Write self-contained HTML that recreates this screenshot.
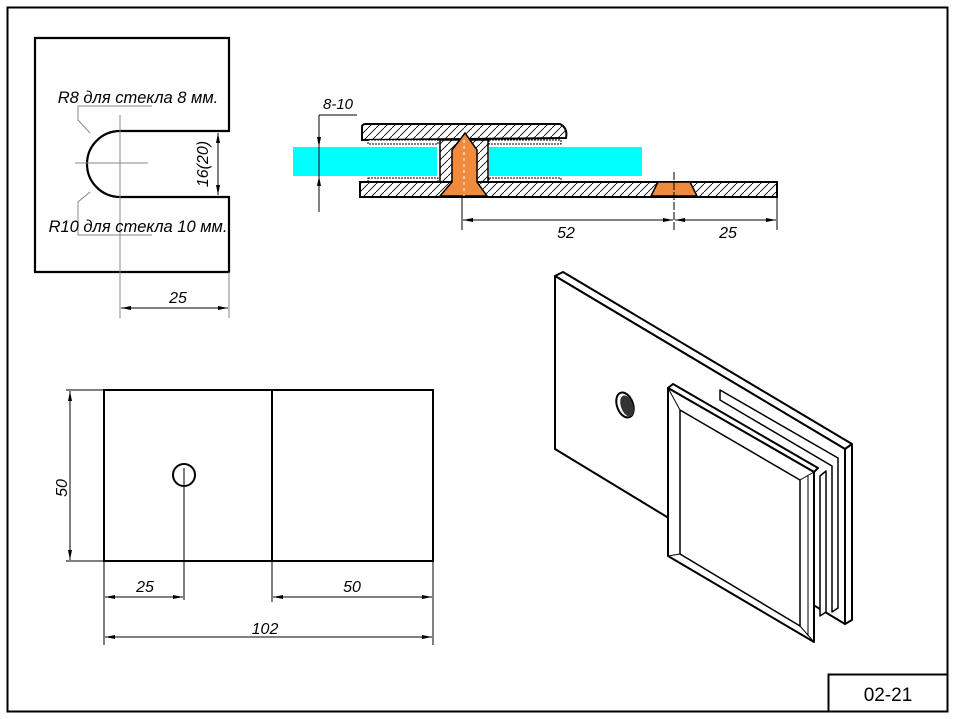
<!DOCTYPE html>
<html><head><meta charset="utf-8"><style>
html,body{margin:0;padding:0;background:#fff;}
svg{display:block;}
text{font-family:"Liberation Sans",sans-serif;font-style:italic;fill:#000;}
</style></head><body>
<svg width="957" height="719" viewBox="0 0 957 719" xmlns="http://www.w3.org/2000/svg">
<defs>
<marker id="a" viewBox="0 0 10 6" refX="10" refY="3" markerWidth="10" markerHeight="6" orient="auto-start-reverse" markerUnits="userSpaceOnUse"><path d="M0,1 L10,3 L0,5z" fill="#000"/></marker>
<pattern id="h" width="8" height="8" patternUnits="userSpaceOnUse"><path d="M0,8 L8,0" stroke="#000" stroke-width="0.8"/></pattern>
</defs>
<!-- frame -->
<rect x="7.5" y="7.5" width="940" height="704" fill="none" stroke="#000" stroke-width="2"/>
<rect x="828.5" y="674.5" width="119" height="37" fill="none" stroke="#000" stroke-width="2"/>
<text x="888" y="701" font-size="19" text-anchor="middle" style="font-style:normal">02-21</text>

<!-- top-left plate -->
<path d="M229,131 L229,38 L35,38 L35,272 L229,272 L229,197 L120,197 A32,32 0 0 1 120,131 Z" fill="none" stroke="#000" stroke-width="2.2"/>
<g stroke="#888" stroke-width="1" fill="none">
<line x1="120" y1="115" x2="120" y2="318"/>
<line x1="75" y1="163" x2="148" y2="163"/>
<line x1="229" y1="272" x2="229" y2="318"/>
<path d="M152,106 L78,106 L78,120 L90,133"/>
<path d="M152,235 L78,235 L78,202 L90,192"/>
</g>
<line x1="218" y1="133" x2="218" y2="195" stroke="#000" marker-start="url(#a)" marker-end="url(#a)"/>
<text transform="translate(208,164) rotate(-90)" font-size="16" text-anchor="middle">16(20)</text>
<text x="138" y="103" font-size="16.5" text-anchor="middle">R8 для стекла 8 мм.</text>
<text x="138" y="232" font-size="16.5" text-anchor="middle">R10 для стекла 10 мм.</text>
<line x1="121" y1="308" x2="228" y2="308" stroke="#000" marker-start="url(#a)" marker-end="url(#a)"/>
<text x="178" y="303" font-size="16" text-anchor="middle">25</text>

<!-- section -->
<rect x="293" y="147" width="144" height="29" fill="#00ffff"/>
<rect x="489" y="147" width="153" height="29" fill="#00ffff"/>
<path d="M362,127 Q362,124 366,124 L560,124 Q568,128 566,138 L362,140 Z" fill="url(#h)" stroke="#000" stroke-width="2"/>
<rect x="368" y="140" width="70" height="4" fill="#fff" stroke="#000" stroke-width="1" stroke-dasharray="2,1"/>
<rect x="489" y="140" width="72" height="4" fill="#fff" stroke="#000" stroke-width="1" stroke-dasharray="2,1"/>
<rect x="368" y="178" width="70" height="4" fill="#fff" stroke="#000" stroke-width="1" stroke-dasharray="2,1"/>
<rect x="489" y="178" width="72" height="4" fill="#fff" stroke="#000" stroke-width="1" stroke-dasharray="2,1"/>
<rect x="440" y="140" width="48" height="42" fill="url(#h)" stroke="#000" stroke-width="1.5"/>
<rect x="360" y="182" width="417" height="15" fill="url(#h)" stroke="#000" stroke-width="2"/>
<path d="M452,150 L452,182 L440,196 L487,196 L477,182 L477,150 L465,133 Z" fill="#f08a3c" stroke="#000" stroke-width="1.5"/>
<path d="M658,182 L690,182 L697,196 L651,196 Z" fill="#f08a3c" stroke="#000" stroke-width="1.5"/>
<line x1="464" y1="140" x2="464" y2="196" stroke="#fff" stroke-width="1" stroke-dasharray="3,3"/>
<g stroke="#000" stroke-width="1">
<line x1="462" y1="198" x2="462" y2="230"/>
<line x1="674" y1="172" x2="674" y2="230" stroke-dasharray="8,2"/>
<line x1="777" y1="197" x2="777" y2="230"/>
<line x1="319" y1="115" x2="357" y2="115"/>
<line x1="319" y1="115" x2="319" y2="212"/>
</g>
<line x1="463" y1="220" x2="673" y2="220" stroke="#000" marker-start="url(#a)" marker-end="url(#a)"/>
<line x1="675" y1="220" x2="776" y2="220" stroke="#000" marker-start="url(#a)" marker-end="url(#a)"/>
<line x1="319" y1="125" x2="319" y2="147" stroke="#000" marker-end="url(#a)"/>
<line x1="319" y1="197" x2="319" y2="176" stroke="#000" marker-end="url(#a)"/>
<text x="566" y="238" font-size="16" text-anchor="middle">52</text>
<text x="728" y="238" font-size="16" text-anchor="middle">25</text>
<text x="338" y="109" font-size="15" text-anchor="middle">8-10</text>

<!-- front view -->
<rect x="104" y="390" width="329" height="171" fill="none" stroke="#000" stroke-width="2"/>
<line x1="272" y1="390" x2="272" y2="561" stroke="#000" stroke-width="2"/>
<circle cx="184" cy="475" r="11" fill="none" stroke="#000" stroke-width="2"/>
<g stroke="#000" stroke-width="1">
<line x1="184" y1="468" x2="184" y2="600"/>
<line x1="104" y1="561" x2="104" y2="645"/>
<line x1="272" y1="561" x2="272" y2="602"/>
<line x1="433" y1="561" x2="433" y2="645"/>
<line x1="66" y1="390" x2="104" y2="390"/>
<line x1="66" y1="561" x2="104" y2="561"/>
</g>
<line x1="70" y1="391" x2="70" y2="560" stroke="#000" marker-start="url(#a)" marker-end="url(#a)"/>
<line x1="105" y1="597" x2="183" y2="597" stroke="#000" marker-start="url(#a)" marker-end="url(#a)"/>
<line x1="273" y1="597" x2="432" y2="597" stroke="#000" marker-start="url(#a)" marker-end="url(#a)"/>
<line x1="105" y1="637" x2="432" y2="637" stroke="#000" marker-start="url(#a)" marker-end="url(#a)"/>
<text transform="translate(67,488) rotate(-90)" font-size="16" text-anchor="middle">50</text>
<text x="145" y="592" font-size="16" text-anchor="middle">25</text>
<text x="352" y="592" font-size="16" text-anchor="middle">50</text>
<text x="265" y="634" font-size="16" text-anchor="middle">102</text>

<!-- iso view -->
<g fill="#fff" stroke="#000" stroke-width="2" stroke-linejoin="round">
<path d="M555,276 L563,272 L852,444 L852,620 L845,624 L845,449 Z"/>
<path d="M555,276 L845,449 L845,624 L667,517 L555,449 Z"/>
<line x1="845" y1="449" x2="852" y2="444"/>
<path d="M720,390 L720,400 L832,466 L832,612 L838,608 L838,458 Z" stroke-width="1.5"/>
<path d="M820,476 L826,471 L826,612 L820,616 Z" stroke-width="1.5"/>
<path d="M668,388 L673,384 L818,468 L814,472 Z"/>
<path d="M668,388 L814,472 L814,642 L668,556 Z"/>
<path d="M680,410 L800,480 L800,626 L680,554 Z" stroke-width="1.5"/>
<line x1="668" y1="388" x2="680" y2="410" stroke-width="1"/>
<line x1="814" y1="472" x2="800" y2="480" stroke-width="1"/>
<line x1="814" y1="642" x2="800" y2="626" stroke-width="1"/>
<line x1="668" y1="556" x2="680" y2="554" stroke-width="1"/>
<line x1="808" y1="476" x2="808" y2="636" stroke-width="1"/>
<ellipse cx="625" cy="405" rx="8" ry="13" transform="rotate(-20 625 405)"/>
<ellipse cx="627" cy="406" rx="6" ry="11" transform="rotate(-20 627 406)" fill="#333" stroke="none"/>
</g>
</svg>
</body></html>
